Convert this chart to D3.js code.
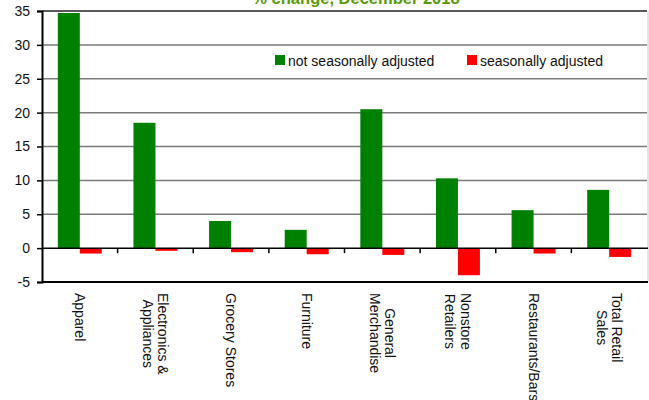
<!DOCTYPE html>
<html>
<head>
<meta charset="utf-8">
<script src="https://cdn.jsdelivr.net/npm/d3@7"></script>
<style>
  body { margin: 0; background: #fff; }
  text { font-family: "Liberation Sans", Arial, sans-serif; }
</style>
</head>
<body>
<script>
// data
let categories = ["Apparel", "Electronics &\nAppliances", "Grocery Stores", "Furniture",
    "General\nMerchandise", "Nonstore\nRetailers", "Restaurants/Bars", "Total Retail\nSales"];
let notAdjusted = [34.7, 18.5, 4.0, 2.7, 20.5, 10.3, 5.6, 8.6];
let adjusted = [-0.8, -0.4, -0.6, -0.9, -1.0, -4.0, -0.8, -1.3];
let seriesNames = ["not seasonally adjusted", "seasonally adjusted"];
let seriesColors = ["#008000", "#ff0000"];
let yTicks = [-5, 0, 5, 10, 15, 20, 25, 30, 35];

let width = 649, height = 400;
let plotLeft = 42, plotRight = 647, plotTop = 11, plotBottom = 282;

let svg = d3.select("body")
    .append("svg")
    .attr("width", width)
    .attr("height", height);

let x = d3.scaleBand().domain(categories).range([plotLeft, plotRight]);
let xs = d3.scaleBand().domain(seriesNames).range([0, x.bandwidth()])
    .paddingInner(0).paddingOuter(0.72);
let y = d3.scaleLinear().domain([-5, 35]).range([plotBottom, plotTop]);

// gridlines
svg.append("g")
    .selectAll("line")
    .data(yTicks.filter(d => d != 0 && d != -5 && d != 35))
    .join("line")
    .attr("x1", plotLeft).attr("x2", plotRight)
    .attr("y1", d => y(d)).attr("y2", d => y(d))
    .attr("stroke", "#7a7a7a")
    .attr("stroke-width", 1.5);

// frame
svg.append("line")
    .attr("x1", plotLeft).attr("x2", plotRight)
    .attr("y1", y(35)).attr("y2", y(35))
    .attr("stroke", "#222").attr("stroke-width", 1.5);
svg.append("line")
    .attr("x1", plotRight + 1).attr("x2", plotRight + 1)
    .attr("y1", y(35)).attr("y2", y(-5))
    .attr("stroke", "#c8c8c8").attr("stroke-width", 1);
svg.append("line")
    .attr("x1", plotLeft).attr("x2", plotRight + 1)
    .attr("y1", y(-5)).attr("y2", y(-5))
    .attr("stroke", "#000").attr("stroke-width", 2);

// bars
let rows = categories.map((c, i) => ({ cat: c, vals: [notAdjusted[i], adjusted[i]] }));
let groups = svg.append("g")
    .selectAll("g")
    .data(rows)
    .join("g")
    .attr("transform", d => `translate(${x(d.cat)},0)`);

groups.selectAll("rect")
    .data(d => d.vals.map((v, j) => ({ name: seriesNames[j], v: v, color: seriesColors[j] })))
    .join("rect")
    .attr("x", d => xs(d.name))
    .attr("width", xs.bandwidth())
    .attr("y", d => y(Math.max(0, d.v)))
    .attr("height", d => Math.abs(y(d.v) - y(0)))
    .attr("fill", d => d.color);

// zero line with category ticks
svg.append("line")
    .attr("x1", plotLeft).attr("x2", plotRight + 1)
    .attr("y1", y(0)).attr("y2", y(0))
    .attr("stroke", "#000").attr("stroke-width", 1.5);
svg.append("g")
    .selectAll("line")
    .data(categories.slice(1))
    .join("line")
    .attr("x1", d => x(d)).attr("x2", d => x(d))
    .attr("y1", y(0)).attr("y2", y(0) + 5)
    .attr("stroke", "#000").attr("stroke-width", 1.5);

// y axis (plain hyphen for the minus, like the original)
let yAxis = svg.append("g")
    .attr("transform", `translate(${plotLeft},0)`)
    .call(d3.axisLeft(y).tickValues(yTicks).tickFormat(d => String(d))
        .tickSize(5).tickPadding(7));
yAxis.select(".domain").attr("stroke", "#000").attr("stroke-width", 2);
yAxis.selectAll(".tick line").attr("stroke", "#000").attr("stroke-width", 1.5);
yAxis.selectAll(".tick text")
    .attr("font-size", 14)
    .attr("font-family", "Liberation Sans, Arial, sans-serif")
    .attr("fill", "#111");

// category labels, rotated, lines centred on each other
categories.forEach(c => {
    let lines = c.split("\n");
    let cx = x(c) + x.bandwidth() / 2;
    let g = svg.append("g")
        .attr("transform", `translate(${cx},293) rotate(90)`);
    let lh = 15.5;
    let texts = lines.map((ln, i) => g.append("text")
        .attr("y", (i - (lines.length - 1) / 2) * lh)
        .attr("dy", "0.35em")
        .attr("text-anchor", "middle")
        .attr("font-size", 14)
        .attr("fill", "#111")
        .text(ln));
    let maxLen = d3.max(texts, t => t.node().getComputedTextLength());
    texts.forEach(t => t.attr("x", maxLen / 2));
});

// legend
let legendX = [275, 467];
seriesNames.forEach((s, i) => {
    svg.append("rect")
        .attr("x", legendX[i]).attr("y", 55)
        .attr("width", 10).attr("height", 10)
        .attr("fill", seriesColors[i]);
    svg.append("text")
        .attr("x", legendX[i] + 13).attr("y", 66)
        .attr("font-size", 14)
        .attr("fill", "#111")
        .text(s);
});

// title (cut off at the top in the original)
svg.append("text")
    .attr("x", 356).attr("y", 4)
    .attr("text-anchor", "middle")
    .attr("font-size", 16.5)
    .attr("font-weight", "bold")
    .attr("fill", "#5a9a0a")
    .text("% change, December 2018");
</script>
</body>
</html>
